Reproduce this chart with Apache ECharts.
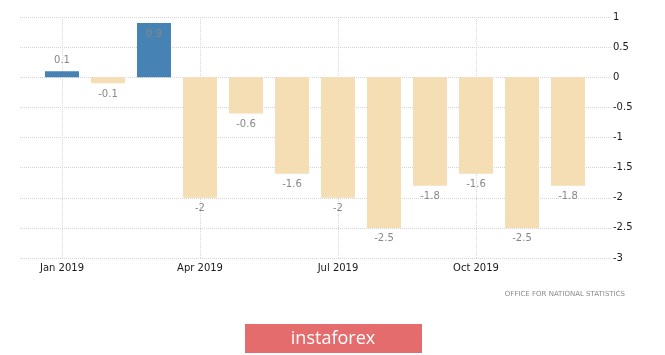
<!DOCTYPE html>
<html>
<head>
<meta charset="utf-8">
<script src="https://cdn.jsdelivr.net/npm/echarts@6/dist/echarts.min.js"></script>
<style>html,body{margin:0;padding:0;background:#fff}#c{width:665px;height:355px}</style>
</head>
<body>
<div id="c"></div>
<script>
var categories = ['Jan 2019','Feb 2019','Mar 2019','Apr 2019','May 2019','Jun 2019','Jul 2019','Aug 2019','Sep 2019','Oct 2019','Nov 2019','Dec 2019'];
var values = [0.1, -0.1, 0.9, -2, -0.6, -1.6, -2, -2.5, -1.8, -1.6, -2.5, -1.8];
var gridLineMonths = ['Jan 2019','Apr 2019','Jul 2019','Oct 2019'];
var yTicks = [1, 0.5, 0, -0.5, -1, -1.5, -2, -2.5, -3];
var sourceText = 'OFFICE FOR NATIONAL STATISTICS';
var brandText = 'instaforex';

var chart = echarts.init(document.getElementById('c'));
var FONT = 'DejaVu Sans';
var data = values.map(function (v, i) {
  var item = {
    value: v,
    itemStyle: { color: v > 0 ? '#4682b4' : '#f5deb3' },
    label: { position: v > 0 ? 'top' : 'bottom' }
  };
  if (v >= 0.8) item.label = { position: 'insideTop', distance: 6 };
  return item;
});
var yMin = yTicks[yTicks.length - 1], yMax = yTicks[0];
chart.setOption({
  animation: false,
  grid: [
    { left: 39, right: 74, top: 17, bottom: 97 },
    { left: 20, right: 53, top: 17, bottom: 97 }
  ],
  xAxis: [
    {
      type: 'category', gridIndex: 0, data: categories,
      axisLine: { show: false },
      axisTick: { show: true, alignWithLabel: true, interval: 2, length: 6, lineStyle: { color: '#ddd', type: 'dotted' } },
      axisLabel: { interval: 2, color: '#1a1a1a', fontFamily: FONT, fontSize: 10, margin: 5 },
      splitLine: { show: false }
    },
    { type: 'value', gridIndex: 1, min: 0, max: 1, show: false }
  ],
  yAxis: [
    { type: 'value', gridIndex: 0, min: yMin, max: yMax, interval: 0.5, show: false },
    {
      type: 'value', gridIndex: 1, min: yMin, max: yMax, interval: 0.5, position: 'right',
      axisLine: { show: false }, axisTick: { show: false },
      axisLabel: { color: '#1a1a1a', fontFamily: FONT, fontSize: 10, margin: 1 },
      splitLine: { show: true, lineStyle: { color: '#d4d4d4', type: 'dotted', width: 1 } }
    }
  ],
  series: [{
    type: 'bar', xAxisIndex: 0, yAxisIndex: 0, data: data, barWidth: 34,
    label: { show: true, color: '#888', fontFamily: FONT, fontSize: 10, distance: 6 },
    markLine: {
      silent: true, symbol: 'none', label: { show: false },
      lineStyle: { color: '#d8d8d8', type: 'dotted', width: 1 },
      data: gridLineMonths.map(function (m) { return { xAxis: m }; }),
      z: 0
    },
    z: 2
  }],
  graphic: [
    { type: 'text', right: 40, top: 291, style: { text: sourceText, fill: '#8a8a8a', font: '7px "DejaVu Sans"' } },
    { type: 'rect', shape: { x: 245, y: 324, width: 177, height: 29 }, style: { fill: '#e46c6c' } },
    { type: 'text', x: 333, y: 338.5, style: { text: brandText, fill: '#ffffff', font: '18px "Open Sans"', textAlign: 'center', textVerticalAlign: 'middle' } }
  ]
});
</script>
</body>
</html>
